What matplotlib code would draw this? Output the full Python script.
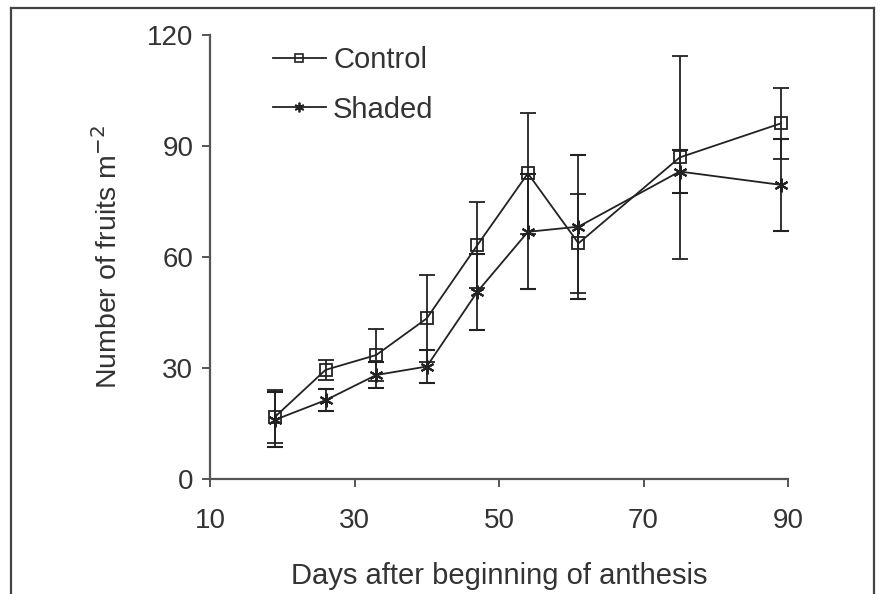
import matplotlib
matplotlib.use("Agg")
import matplotlib.pyplot as plt
from matplotlib.lines import Line2D

plt.rcParams['font.family'] = ['Liberation Sans', 'DejaVu Sans']

days = [19, 26, 33, 40, 47, 54, 61, 75, 89]
control = [16.8, 29.5, 33.5, 43.4, 63.2, 82.6, 63.7, 86.9, 96.1]
control_err = [7.2, 2.7, 7.0, 11.7, 11.6, 16.4, 13.4, 27.4, 9.7]
shaded = [16.0, 21.3, 28.1, 30.4, 50.6, 66.8, 68.2, 83.1, 79.5]
shaded_err = [7.4, 3.0, 3.6, 4.5, 10.3, 15.5, 19.5, 5.7, 12.4]
xticks = [10, 30, 50, 70, 90]
yticks = [0, 30, 60, 90, 120]

W, H = 885, 594
fig = plt.figure(figsize=(W / 100, H / 100), dpi=100)
ax = fig.add_axes([210 / W, 1 - 479 / H, (788 - 210) / W, (479 - 35) / H])

col = '#222222'
ax.errorbar(days, control, yerr=control_err, color=col, lw=1.3, marker='s',
            ms=8.5, mfc='none', mec=col, mew=1.3, capsize=6, capthick=1.3,
            elinewidth=1.3, label='Control')
ax.errorbar(days, shaded, yerr=shaded_err, color=col, lw=1.3, marker=(6, 2, 0),
            ms=10, mec=col, mew=1.5, capsize=6, capthick=1.3,
            elinewidth=1.3, label='Shaded')

ax.set_xlim(10, 90)
ax.set_ylim(0, 120)
ax.set_xticks(xticks)
ax.set_yticks(yticks)
for s in ['top', 'right']:
    ax.spines[s].set_visible(False)
for s in ['left', 'bottom']:
    ax.spines[s].set_color('#555555')
    ax.spines[s].set_linewidth(1.6)
ax.tick_params(axis='both', direction='out', length=6, width=1.4, color='#555555',
               labelsize=20, labelcolor='#333333')
ax.tick_params(axis='x', pad=15)
ax.tick_params(axis='y', pad=6)

ax.set_xlabel('Days after beginning of anthesis', fontsize=21, color='#333333', labelpad=20)
ax.set_ylabel('Number of fruits m$^{-2}$', fontsize=20.5, color='#333333', labelpad=17)

handles = [Line2D([], [], color=col, lw=1.3, marker='s', ms=6, mfc='none', mew=1.2),
           Line2D([], [], color=col, lw=1.3, marker=(6, 2, 0), ms=7, mew=1.3)]
leg = ax.legend(handles, ['Control', 'Shaded'], loc='upper left',
                bbox_to_anchor=(0.064, 1.035), frameon=False, fontsize=21,
                handlelength=1.8, handletextpad=0.25, labelspacing=0.75)
for t in leg.get_texts():
    t.set_color('#333333')

# figure border (left, top, right)
fc = '#444444'
fig.add_artist(Line2D([11 / W, 11 / W], [0, 1 - 8 / H], transform=fig.transFigure, color=fc, lw=1.6))
fig.add_artist(Line2D([11 / W, 874 / W], [1 - 8 / H, 1 - 8 / H], transform=fig.transFigure, color=fc, lw=1.6))
fig.add_artist(Line2D([874 / W, 874 / W], [0, 1 - 8 / H], transform=fig.transFigure, color=fc, lw=1.6))

fig.savefig('out.png', dpi=100)
